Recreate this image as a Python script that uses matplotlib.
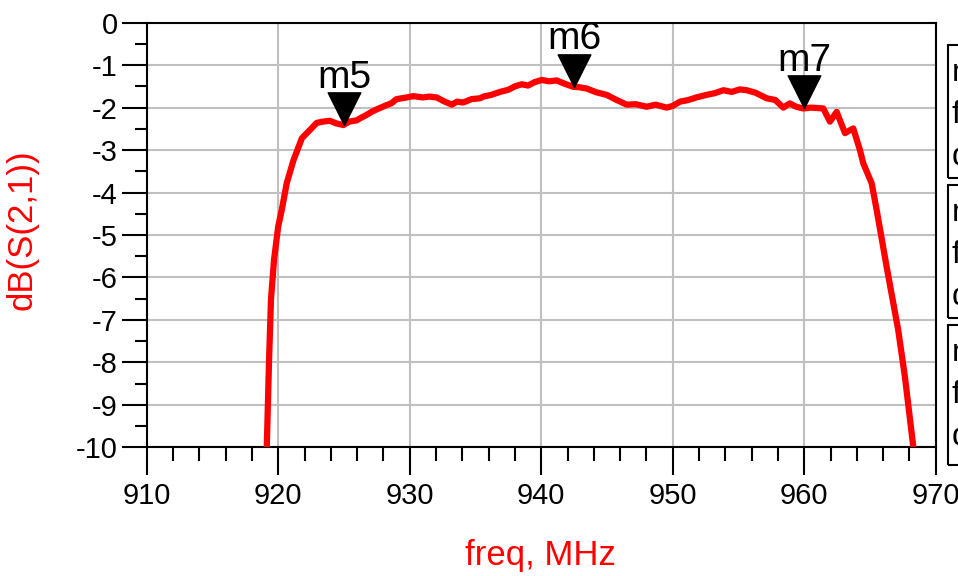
import numpy as np
import matplotlib
matplotlib.use("Agg")
import matplotlib.pyplot as plt
from matplotlib.patches import Rectangle

plt.rcParams['font.family'] = ['Liberation Sans', 'DejaVu Sans']
plt.rcParams['axes.unicode_minus'] = False

# S21 trace
freq = [919.13, 919.3, 919.45, 919.68, 920.0, 920.27, 920.65, 921.15, 921.8, 922.4,
        922.93, 923.4, 923.94, 924.4, 924.95, 925.4, 925.97, 926.3, 926.73, 927.1,
        927.5, 928.25, 928.6, 929.0, 929.6, 930.27, 931.0, 931.5, 932.05, 932.6,
        933.2, 933.6, 934.07, 934.7, 935.35, 935.6, 936.2, 936.87, 937.5, 938.0,
        938.52, 939.0, 939.5, 940.04, 940.6, 941.18, 941.8, 942.44, 942.9, 943.46,
        944.2, 944.98, 945.6, 946.5, 947.2, 948.02, 948.7, 949.54, 950.0, 950.55,
        951.2, 951.8, 952.58, 953.2, 953.85, 954.5, 955.1, 955.63, 956.3, 957.15,
        957.8, 958.41, 958.9, 959.4, 959.93, 960.5, 961.0, 961.45, 961.96, 962.47,
        963.1, 963.73, 964.24, 964.49, 965.13, 965.51, 966.27, 967.15, 967.66, 968.3]
s21_db = [-10.0, -8.0, -6.53, -5.59, -4.8, -4.41, -3.78, -3.25, -2.72, -2.53,
          -2.36, -2.33, -2.31, -2.37, -2.41, -2.33, -2.30, -2.24, -2.17, -2.10,
          -2.04, -1.94, -1.90, -1.80, -1.77, -1.73, -1.76, -1.74, -1.76, -1.85,
          -1.93, -1.86, -1.88, -1.80, -1.78, -1.74, -1.70, -1.63, -1.58, -1.50,
          -1.45, -1.48, -1.40, -1.35, -1.38, -1.36, -1.44, -1.51, -1.52, -1.55,
          -1.64, -1.70, -1.80, -1.93, -1.92, -1.98, -1.93, -2.00, -1.96, -1.86,
          -1.82, -1.76, -1.70, -1.66, -1.59, -1.63, -1.57, -1.59, -1.65, -1.78,
          -1.82, -2.00, -1.90, -1.98, -2.02, -2.00, -2.01, -2.02, -2.33, -2.10,
          -2.60, -2.49, -3.0, -3.31, -3.78, -4.41, -5.75, -7.24, -8.34, -10.0]

marker_names = ["m5", "m6", "m7"]
marker_freq = [925.0, 942.5, 960.0]
marker_db = [-2.41, -1.51, -2.02]
marker_text = [["m5", "freq=925.0MHz", "dB(S(2,1))=-2.403"],
               ["m6", "freq=942.5MHz", "dB(S(2,1))=-1.508"],
               ["m7", "freq=960.0MHz", "dB(S(2,1))=-2.021"]]

fig = plt.figure(figsize=(9.58, 5.76), dpi=100)
ax = fig.add_axes([146.7 / 958, 1 - 447.3 / 576, (935.7 - 146.7) / 958, (447.3 - 22.7) / 576])

ax.plot(freq, s21_db, color='red', lw=4.5, solid_joinstyle='round', zorder=3)

# down-pointing triangles with the tip on the trace
tri = [(0, 0), (-0.5, 1), (0.5, 1), (0, 0)]
ax.plot(marker_freq, marker_db, ls='none', marker=tri, markersize=47,
        color='black', zorder=4, clip_on=False)
for name, fx, fy in zip(marker_names, marker_freq, marker_db):
    ax.annotate(name, (fx, fy), xytext=(0, 27), textcoords='offset points',
                ha='center', va='baseline', fontsize=28, zorder=5)

ax.set_xlim(910, 970)
ax.set_ylim(-10, 0)
ax.set_xticks(np.arange(910, 971, 10))
ax.set_xticks(np.arange(910, 971, 2), minor=True)
ax.set_yticks(np.arange(-10, 1, 1))
ax.set_yticks(np.arange(-10, 0.1, 0.5), minor=True)
ax.grid(True, which='major', color='#c0c0c0', lw=1.5)
ax.set_axisbelow(True)
for sp in ax.spines.values():
    sp.set_linewidth(1.5)

ax.tick_params(axis='x', which='major', length=20, width=1.5, labelsize=21, pad=5)
ax.tick_params(axis='x', which='minor', length=10, width=1.5)
ax.tick_params(axis='y', which='major', length=18, width=1.5, labelsize=21, pad=3)
ax.tick_params(axis='y', which='minor', length=9, width=1.5)

fig.text(540 / 958, 1 - 556 / 576, "freq, MHz", color='red', fontsize=25,
         ha='center', va='center')
fig.text(22 / 958, 1 - 230 / 576, "dB(S(2,1))", color='red', fontsize=25,
         ha='center', va='center', rotation=90)

# marker readout boxes, cut off at the right edge
box_tops = [45, 185, 325]
box_bottoms = [178, 318, 465]
for top, bot, lines in zip(box_tops, box_bottoms, marker_text):
    fig.patches.append(Rectangle((948 / 958, 1 - bot / 576), 40 / 958, (bot - top) / 576,
                                 transform=fig.transFigure, fill=False,
                                 edgecolor='black', lw=1.5))
    for k, line in enumerate(lines):
        yc = top + 28 + k * 42
        fig.text(952 / 958, 1 - yc / 576, line, fontsize=23, ha='left', va='center')

fig.savefig("out.png", dpi=100)
